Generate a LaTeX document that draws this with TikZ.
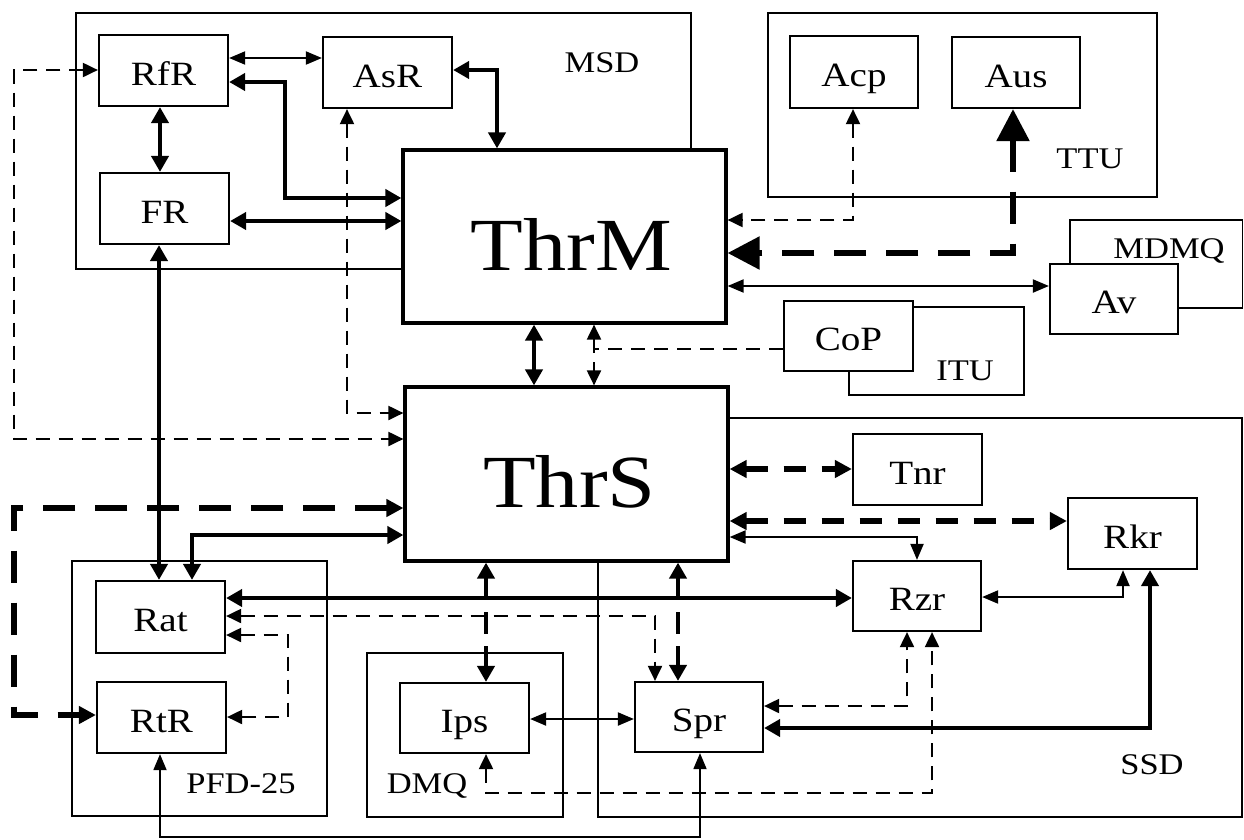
\documentclass[tikz,border=0pt]{standalone}
\usepackage{fontspec}
\setmainfont{Liberation Serif}[FakeStretch=1.15]
\usetikzlibrary{arrows.meta}
\tikzset{
  aS/.tip={Triangle[length=16pt,width=13pt]},
  aT/.tip={Triangle[length=16pt,width=17pt]},
  aD/.tip={Triangle[length=15pt,width=14pt]},
  aM/.tip={Triangle[length=17pt,width=17pt]},
  aB/.tip={Triangle[length=32pt,width=32pt]},
  grp/.style={draw,line width=1.6pt},
  box/.style={draw,fill=white,line width=2.2pt,minimum width=129pt,minimum height=71pt,inner sep=0pt,
    font=\fontsize{34}{36}\selectfont,text height=29pt,text depth=0pt},
  big/.style={draw,fill=white,line width=3.2pt,minimum width=323pt,minimum height=173pt,inner sep=0pt,
    font=\fontsize{75}{80}\selectfont,text height=67pt,text depth=0pt},
  glab/.style={font=\fontsize{30}{32}\selectfont,inner sep=0pt,text height=20pt,text depth=0pt},
  ln/.style={line width=2pt},
  tk/.style={line width=4.8pt},
  ds/.style={line width=2pt,dash pattern=on 14pt off 9pt},
  md/.style={line width=5.5pt,dash pattern=on 22pt off 16pt},
  bd/.style={line width=5.5pt,dash pattern=on 32pt off 20pt},
  td/.style={line width=4.8pt,dash pattern=on 22pt off 12pt},
}
\begin{document}
\begin{tikzpicture}[x=1pt,y=-1pt]
\useasboundingbox (0,0) rectangle (1244,839);
% group frames
\draw[grp] (76,13) rectangle (691,269);
\draw[grp] (768,13) rectangle (1157,197);
\draw[grp] (1070,220) rectangle (1242.5,308);
\draw[grp] (849,307) rectangle (1024,395);
\draw[grp] (598,418) rectangle (1242,817);
\draw[grp] (367,653) rectangle (563,817);
\draw[grp] (72,561) rectangle (327,816);
% group labels
\node[glab] (lMSD) at (602,62) {MSD};
\node[glab] (lTTU) at (1090,158) {TTU};
\node[glab] (lMDMQ) at (1169,248) {MDMQ};
\node[glab] (lITU) at (965,370) {ITU};
\node[glab] (lSSD) at (1152,764) {SSD};
\node[glab] (lDMQ) at (427,783) {DMQ};
\node[glab] (lPFD) at (241,783) {PFD-25};
% boxes
\node[big] (ThrM) at (564.5,236.5) {\hspace*{14pt}ThrM};
\node[big,minimum height=174pt] (ThrS) at (566.5,474) {\hspace*{6pt}ThrS};
\node[box] (RfR) at (163.5,70.5) {RfR};
\node[box] (AsR) at (387.5,72.5) {AsR};
\node[box] (FR) at (164.5,208.5) {FR};
\node[box,minimum width=128pt,minimum height=72pt] (Acp) at (854,72) {Acp};
\node[box,minimum width=128pt] (Aus) at (1016,72.5) {Aus};
\node[box,minimum width=128pt,minimum height=70pt] (Av) at (1114,299) {Av};
\node[box,minimum height=70pt] (CoP) at (848.5,336) {CoP};
\node[box] (Tnr) at (917.5,469.5) {Tnr};
\node[box] (Rkr) at (1132.5,533.5) {Rkr};
\node[box,minimum width=128pt,minimum height=70pt] (Rzr) at (917,596) {Rzr};
\node[box,minimum width=128pt,minimum height=70pt] (Spr) at (699,717) {Spr};
\node[box,minimum height=70pt] (Ips) at (464.5,718) {Ips};
\node[box,minimum height=72pt] (Rat) at (160.5,617) {Rat};
\node[box] (RtR) at (161.5,717.5) {RtR};
\coordinate (jA) at (486,598);
\coordinate (jB) at (678,598);
\coordinate (jC) at (486,612);
\coordinate (jD) at (678,612);
% connectors: MSD area
\draw[ln,aS-aS] (RfR.east |- 0,58) -- (AsR.west |- 0,58);
\draw[tk,aT-aT] (RfR.east |- 0,82) -| (285,198) -- (ThrM.west |- 0,198);
\draw[tk,aT-aT] (FR.east |- 0,221) -- (ThrM.west |- 0,221);
\draw[tk,aT-aT] (RfR.south -| 160,0) -- (FR.north -| 160,0);
\draw[tk,aT-aT] (FR.south -| 159,0) -- (Rat.north -| 159,0);
\draw[tk,aT-aT] (AsR.east |- 0,70) -| (ThrM.north -| 497,0);
\draw[ds,aD-aD] (RfR.west |- 0,70) -| (14,439) -- (ThrS.west |- 0,439);
\draw[ds,aD-aD] (AsR.south -| 347,0) |- (ThrS.west |- 0,413);
% ThrM - ThrS
\draw[tk,aT-aT] (ThrM.south -| 534,0) -- (ThrS.north -| 534,0);
\draw[ds,aD-aD] (ThrM.south -| 594,0) -- (ThrS.north -| 594,0);
\draw[ds] (CoP.west |- 0,349) -- (594,349);
% TTU / MDMQ
\draw[ds,aD-aD] (Acp.south -| 853,0) |- (ThrM.east |- 0,220);
\draw[bd,aB-aB] (Aus.south -| 1013,0) |- (ThrM.east |- 0,253);
\draw[ln,aS-aS] (ThrM.east |- 0,286) -- (Av.west |- 0,286);
% SSD area
\draw[md,aM-aM] (ThrS.east |- 0,469) -- (Tnr.west |- 0,469);
\draw[md,aM-aM] (ThrS.east |- 0,521) -- (Rkr.west |- 0,521);
\draw[ln,aS-aS] (ThrS.east |- 0,537) -| (Rzr.north -| 917,0);
\draw[ln,aS-aS] (Rzr.east |- 0,597) -| (Rkr.south -| 1123,0);
\draw[tk,aT-aT] (Spr.east |- 0,728) -| (Rkr.south -| 1150,0);
\draw[ds,aD-aD] (Spr.east |- 0,706) -| (Rzr.south -| 907,0);
\draw[ds,aD-aD] (Ips.south -| 486,0) |- (932,793) -- (Rzr.south -| 932,0);
% horizontal bus and ThrS bottom
\draw[tk,aT-aT] (Rat.east |- 0,598) -- (Rzr.west |- 0,598);
\draw[tk,-aT] (jA) -- (ThrS.south -| jA);
\draw[tk,-aT] (jB) -- (ThrS.south -| jB);
\draw[td,-aT] (jC) -- (Ips.north -| jC);
\draw[td,-aT] (jD) -- (Spr.north -| jD);
\draw[ds,aD-aD] (Rat.east |- 0,616) -| (Spr.north -| 655,0);
\draw[ds,aD-aD] (Rat.east |- 0,635) -| (288,717) -- (RtR.east |- 0,717);
% PFD area
\draw[bd,aM-aM] (ThrS.west |- 0,508) -| (14,715) -- (RtR.west |- 0,715);
\draw[tk,aT-aT] (ThrS.west |- 0,535) -| (Rat.north -| 192,0);
\draw[ln,aS-aS] (Ips.east |- 0,719) -- (Spr.west |- 0,719);
\draw[line width=1.8pt,aS-aS] (RtR.south -| 160,0) |- (700,837) -- (Spr.south -| 700,0);
\end{tikzpicture}
\end{document}
